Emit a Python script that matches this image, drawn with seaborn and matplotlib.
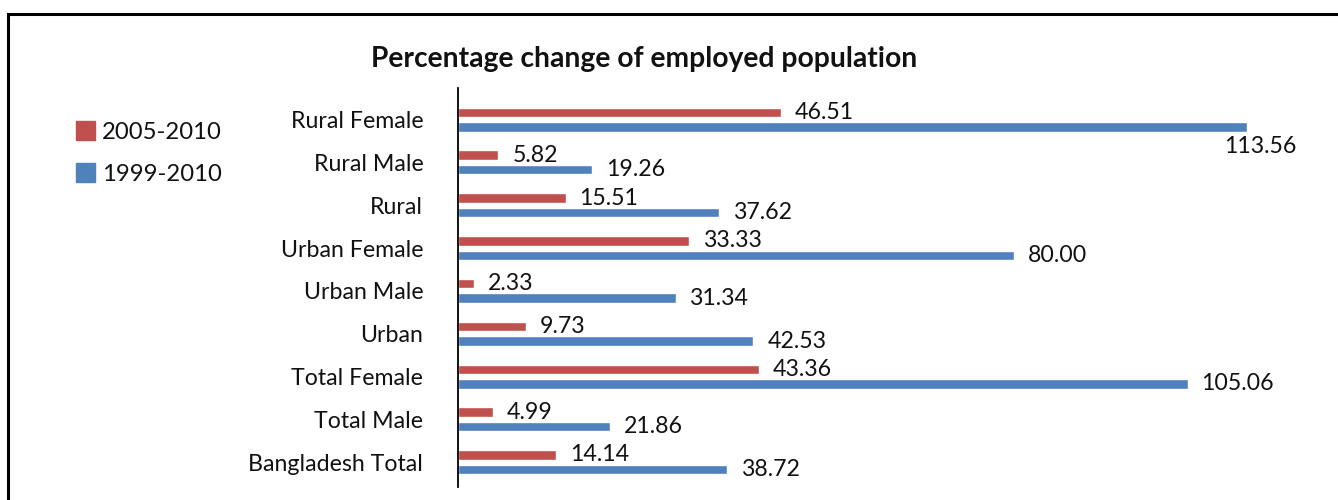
import matplotlib
matplotlib.use("Agg")
import matplotlib.pyplot as plt
import matplotlib.patches as mpatches
import seaborn as sns
import pandas as pd

categories = ["Rural Female", "Rural Male", "Rural", "Urban Female", "Urban Male",
              "Urban", "Total Female", "Total Male", "Bangladesh Total"]
series_names = ["2005-2010", "1999-2010"]
values_2005_2010 = [46.51, 5.82, 15.51, 33.33, 2.33, 9.73, 43.36, 4.99, 14.14]
values_1999_2010 = [113.56, 19.26, 37.62, 80.00, 31.34, 42.53, 105.06, 21.86, 38.72]
colors = ["#C0504D", "#4F81BD"]

df = pd.DataFrame({
    "category": categories * 2,
    "period": [series_names[0]] * len(categories) + [series_names[1]] * len(categories),
    "value": values_2005_2010 + values_1999_2010,
})

sns.set_theme(style="white")
plt.rcParams["font.family"] = ["Lato", "DejaVu Sans"]

fig = plt.figure(figsize=(13.38, 5.0), dpi=100)
ax = fig.add_axes([458 / 1338, 1 - 487 / 500, (1326 - 458) / 1338, (487 - 88) / 500])

sns.barplot(data=df, y="category", x="value", hue="period", order=categories,
            hue_order=series_names, palette=colors, orient="h",
            width=0.68, gap=0.35, dodge=True, ax=ax, legend=False, saturation=1)

ax.set_xlim(0, 125)
ax.set_ylim(8.58, -0.74)
ax.set_xlabel("")
ax.set_ylabel("")
ax.set_xticks([])
for s in ["top", "right", "bottom"]:
    ax.spines[s].set_visible(False)
ax.spines["left"].set_color("black")
ax.spines["left"].set_linewidth(1.3)
ax.tick_params(axis="y", length=0, pad=25, labelsize=16.7, labelcolor="#111111")

# value labels
for container, vals in zip(ax.containers, [values_2005_2010, values_1999_2010]):
    for bar, v in zip(container.patches, vals):
        yc = bar.get_y() + bar.get_height() / 2
        end = bar.get_x() + bar.get_width()
        if end > 110:
            ax.annotate(f"{v:.2f}", (end, yc), xytext=(10, -14), textcoords="offset points",
                        ha="center", va="center", fontsize=16.7, color="#111111",
                        annotation_clip=False)
        else:
            ax.annotate(f"{v:.2f}", (end, yc), xytext=(10, 0), textcoords="offset points",
                        ha="left", va="center", fontsize=16.7, color="#111111",
                        annotation_clip=False)

fig.text(644 / 1338, 1 - 59 / 500, "Percentage change of employed population",
         ha="center", va="center", fontsize=20.3, fontweight="bold", color="#111111")

handles = [mpatches.Patch(color=c, label=n) for c, n in zip(colors, series_names)]
fig.legend(handles=handles, loc="upper left", bbox_to_anchor=(54 / 1338, 1 - 100 / 500),
           frameon=False, fontsize=17.2, handlelength=0.8, handleheight=0.8,
           handletextpad=0.3, labelspacing=0.85, labelcolor="#111111")

fig.patches.append(mpatches.Rectangle((8 / 1338, -0.5), 2.0, 1 - 14 / 500 + 0.5,
                                      transform=fig.transFigure, fill=False,
                                      edgecolor="black", linewidth=2.2, figure=fig))

fig.savefig("out.png", dpi=100, facecolor="white")
